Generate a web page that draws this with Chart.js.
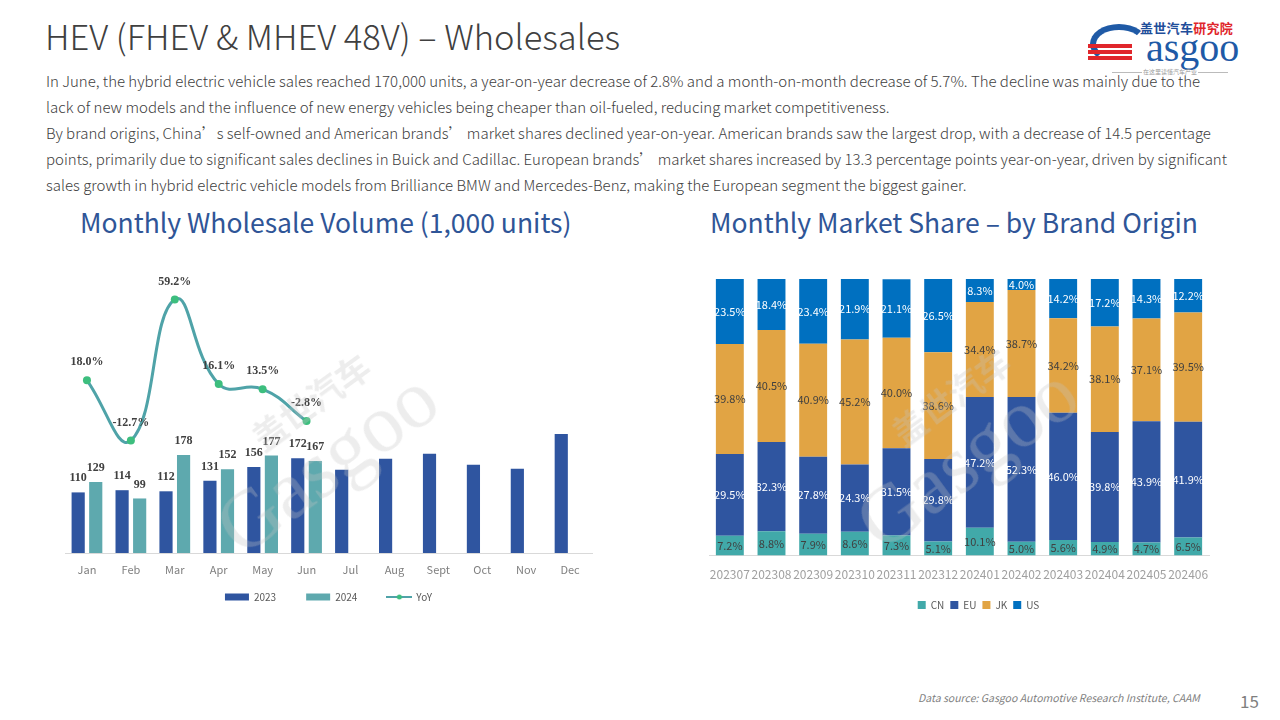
<!DOCTYPE html>
<html>
<head>
<meta charset="utf-8">
<script src="https://cdn.jsdelivr.net/npm/chart.js@4.4.1/dist/chart.umd.min.js"></script>
<style>
    body { margin: 0; width: 1280px; height: 720px; background: #fff; position: relative; overflow: hidden;
           font-family: "Noto Sans CJK SC", "Noto Sans", sans-serif; color: #404040; }
    .title { position: absolute; left: 45px; top: 10px; font-size: 34.5px; font-weight: 300; color: #404040; white-space: nowrap; }
    .intro { position: absolute; left: 46px; top: 68px; font-size: 15px; line-height: 26px; font-weight: 300; color: #404040; white-space: nowrap; }
    .sub { position: absolute; top: 202px; font-size: 26.5px; color: #2F5597; white-space: nowrap; }
    .chartbox { position: absolute; }
    .wm { position: absolute; width: 260px; height: 120px; transform: rotate(-36deg); pointer-events: none;
          color: rgba(195,195,195,0.3); white-space: nowrap; }
    .wm .cn { font-size: 34px; line-height: 38px; margin-left: 80px; font-weight: bold; }
    .wm .en { font-family: "Liberation Serif", serif; font-size: 82px; line-height: 80px; }
    .source { position: absolute; left: 918px; top: 690px; font-size: 10.5px; font-style: italic; color: #7f7f7f; white-space: nowrap; }
    .page { position: absolute; left: 1240px; top: 688px; font-size: 17px; color: #7f7f7f; }
    .logo-cn { position: absolute; left: 1140px; top: 18px; font-size: 13px; font-weight: bold; color: #1F4E9A; letter-spacing: 0.3px; }
    .logo-cn span { color: #E0262B; }
    .logo-en { position: absolute; left: 1146px; top: 24px; font-family: "Liberation Serif", serif; font-size: 40px; color: #1F5AA6; }
    .logo-g { position: absolute; left: 1090px; top: 24px; width: 58px; height: 40px; border: 6px solid #1F5AA6; border-radius: 50%;
              border-right-color: transparent; border-bottom-color: transparent; box-sizing: border-box; }
    .stripe { position: absolute; left: 1088px; width: 44px; height: 4px; background: #E0262B; }
    .tag { position: absolute; left: 1112px; top: 67px; width: 116px; font-size: 6px; color: #999; text-align: center; }
    .tag::before, .tag::after { content: ""; position: absolute; top: 5px; width: 30px; border-top: 1px solid #bbb; }
    .tag::before { left: 0; } .tag::after { right: 0; }
</style>
</head>
<body>
<div class="title">HEV (FHEV &amp; MHEV 48V) – Wholesales</div>
<div class="intro">In June, the hybrid electric vehicle sales reached 170,000 units, a year-on-year decrease of 2.8% and a month-on-month decrease of 5.7%. The decline was mainly due to the<br>lack of new models and the influence of new energy vehicles being cheaper than oil-fueled, reducing market competitiveness.<br>By brand origins, China’s self-owned and American brands’ market shares declined year-on-year. American brands saw the largest drop, with a decrease of 14.5 percentage<br>points, primarily due to significant sales declines in Buick and Cadillac. European brands’ market shares increased by 13.3 percentage points year-on-year, driven by significant<br>sales growth in hybrid electric vehicle models from Brilliance BMW and Mercedes-Benz, making the European segment the biggest gainer.</div>

<div class="logo-g"></div>
<div class="stripe" style="top:44px"></div>
<div class="stripe" style="top:50px"></div>
<div class="stripe" style="top:56px"></div>
<div class="logo-cn">盖世汽车<span>研究院</span></div>
<div class="logo-en">asgoo</div>
<div class="tag">在这里读懂汽车产业</div>

<div class="sub" style="left:80px">Monthly Wholesale Volume (1,000 units)</div>
<div class="sub" style="left:710px">Monthly Market Share – by Brand Origin</div>

<div class="chartbox" style="left:40px; top:230px; width:570px; height:382px"><canvas id="volChart"></canvas></div>
<div class="chartbox" style="left:690px; top:265px; width:540px; height:355px"><canvas id="shareChart"></canvas></div>

<div class="wm" style="left:190px; top:385px"><div class="cn">盖世汽车</div><div class="en">Gasgoo</div></div>
<div class="wm" style="left:830px; top:380px"><div class="cn">盖世汽车</div><div class="en">Gasgoo</div></div>

<div class="source">Data source: Gasgoo Automotive Research Institute, CAAM</div>
<div class="page">15</div>

<script>
    // wholesale volume, 1,000 units
    var months = ["Jan", "Feb", "Mar", "Apr", "May", "Jun", "Jul", "Aug", "Sept", "Oct", "Nov", "Dec"];
    var sales2023 = [110, 114, 112, 131, 156, 172, 151, 171, 180, 160, 153, 216];
    var sales2024 = [129, 99, 178, 152, 177, 167, null, null, null, null, null, null];
    var yoy = [18.0, -12.7, 59.2, 16.1, 13.5, -2.8, null, null, null, null, null, null];

    // market share by brand origin, %
    var periods = ["202307", "202308", "202309", "202310", "202311", "202312", "202401", "202402", "202403", "202404", "202405", "202406"];
    var shareCN = [7.2, 8.8, 7.9, 8.6, 7.3, 5.1, 10.1, 5.0, 5.6, 4.9, 4.7, 6.5];
    var shareEU = [29.5, 32.3, 27.8, 24.3, 31.5, 29.8, 47.2, 52.3, 46.0, 39.8, 43.9, 41.9];
    var shareJK = [39.8, 40.5, 40.9, 45.2, 40.0, 38.6, 34.4, 38.7, 34.2, 38.1, 37.1, 39.5];
    var shareUS = [23.5, 18.4, 23.4, 21.9, 21.1, 26.5, 8.3, 4.0, 14.2, 17.2, 14.3, 12.2];

    var darkBlue = "#2F55A0";
    var teal = "#5EA9AE";

    // little legend icon: line with a dot
    function lineIcon() {
        var c = document.createElement("canvas");
        c.width = 26; c.height = 8;
        var g = c.getContext("2d");
        g.strokeStyle = "#4FA3A8"; g.lineWidth = 2;
        g.beginPath(); g.moveTo(0, 4); g.lineTo(26, 4); g.stroke();
        g.fillStyle = "#3DBE7E";
        g.beginPath(); g.arc(13, 4, 2.5, 0, Math.PI * 2); g.fill();
        return c;
    }

    var volLabels = {
        id: "volLabels",
        afterDatasetsDraw: function(chart) {
            var ctx = chart.ctx;
            ctx.save();
            ctx.font = "bold 12px 'Liberation Serif', serif";
            ctx.fillStyle = "#404040";
            ctx.textAlign = "center";
            ctx.textBaseline = "middle";
            [0, 1].forEach(function(di) {
                chart.getDatasetMeta(di).data.forEach(function(el, i) {
                    var v = chart.data.datasets[di].data[i];
                    if (v == null || yoy[i] == null) return;
                    ctx.fillText(v, el.x, el.y - 14);
                });
            });
            chart.getDatasetMeta(2).data.forEach(function(el, i) {
                var v = yoy[i];
                if (v == null) return;
                ctx.fillText(v.toFixed(1) + "%", el.x, el.y - 18);
            });
            ctx.restore();
        }
    };

    new Chart(document.getElementById("volChart"), {
        type: "bar",
        data: {
            labels: months,
            datasets: [
                { label: "2023", data: sales2023, backgroundColor: darkBlue, yAxisID: "y", order: 2,
                  categoryPercentage: 0.8, barPercentage: 0.75 },
                { label: "2024", data: sales2024, backgroundColor: teal, yAxisID: "y", order: 2,
                  categoryPercentage: 0.8, barPercentage: 0.75 },
                { label: "YoY", type: "line", data: yoy, yAxisID: "y1", order: 1,
                  borderColor: "#4FA3A8", borderWidth: 3, tension: 0.45,
                  pointRadius: 4, pointBackgroundColor: "#3DBE7E", pointBorderWidth: 0 }
            ]
        },
        options: {
            responsive: true,
            maintainAspectRatio: false,
            animation: false,
            layout: { padding: { left: 25, right: 18, top: 9, bottom: 0 } },
            scales: {
                x: {
                    grid: { display: false, drawTicks: false },
                    border: { color: "#D9D9D9" },
                    ticks: { color: "#7F7F7F", font: { size: 11, family: "'Noto Sans CJK SC', sans-serif" }, padding: 10 },
                    afterFit: function(scale) { scale.height = 29; }
                },
                y: { display: false, min: 0, max: 570 },
                y1: { display: false, min: -70, max: 90 }
            },
            plugins: {
                tooltip: { enabled: false },
                legend: {
                    position: "bottom",
                    labels: {
                        color: "#595959",
                        font: { size: 10, family: "'Noto Sans CJK SC', sans-serif" },
                        usePointStyle: true,
                        pointStyleWidth: 24,
                        boxHeight: 7,
                        padding: 10,
                        sort: function(a, b) { return a.datasetIndex - b.datasetIndex; },
                        generateLabels: function(chart) {
                            var items = Chart.defaults.plugins.legend.labels.generateLabels(chart);
                            items.forEach(function(it) {
                                if (it.datasetIndex === 2) {
                                    it.pointStyle = lineIcon();
                                } else {
                                    it.pointStyle = "rect";
                                    it.lineWidth = 0;
                                    it.text = it.text + "\u2003\u2003";
                                }
                            });
                            return items;
                        }
                    }
                }
            }
        },
        plugins: [volLabels]
    });

    var shareLabels = {
        id: "shareLabels",
        afterDatasetsDraw: function(chart) {
            var ctx = chart.ctx;
            ctx.save();
            ctx.font = "11px 'Noto Sans CJK SC', sans-serif";
            ctx.textAlign = "center";
            ctx.textBaseline = "middle";
            chart.data.datasets.forEach(function(ds, di) {
                ctx.fillStyle = ds.labelColor;
                chart.getDatasetMeta(di).data.forEach(function(el, i) {
                    ctx.fillText(ds.data[i].toFixed(1) + "%", el.x, (el.y + el.base) / 2);
                });
            });
            ctx.restore();
        }
    };

    new Chart(document.getElementById("shareChart"), {
        type: "bar",
        data: {
            labels: periods,
            datasets: [
                { label: "CN", data: shareCN, backgroundColor: "#41A9A9", labelColor: "#404040" },
                { label: "EU", data: shareEU, backgroundColor: darkBlue, labelColor: "#FFFFFF" },
                { label: "JK", data: shareJK, backgroundColor: "#E1A444", labelColor: "#404040" },
                { label: "US", data: shareUS, backgroundColor: "#0070C0", labelColor: "#FFFFFF" }
            ]
        },
        options: {
            responsive: true,
            maintainAspectRatio: false,
            animation: false,
            layout: { padding: { left: 19, right: 21, top: 14, bottom: 0 } },
            datasets: { bar: { categoryPercentage: 1, barPercentage: 0.67 } },
            scales: {
                x: {
                    stacked: true,
                    grid: { display: false, drawTicks: false },
                    border: { color: "#D9D9D9" },
                    ticks: { color: "#A0A0A0", autoSkip: false, maxRotation: 0,
                             font: { size: 12, family: "'Noto Sans CJK SC', sans-serif" }, padding: 12 }
                },
                y: { display: false, stacked: true, min: 0, max: 100 }
            },
            plugins: {
                tooltip: { enabled: false },
                legend: {
                    position: "bottom",
                    labels: {
                        color: "#595959",
                        font: { size: 10, family: "'Noto Sans CJK SC', sans-serif" },
                        usePointStyle: true,
                        pointStyle: "rect",
                        boxWidth: 8,
                        boxHeight: 8,
                        padding: 6,
                        generateLabels: function(chart) {
                            var items = Chart.defaults.plugins.legend.labels.generateLabels(chart);
                            // empty spacer so the legend sits right of centre like the original
                            items.unshift({ text: "\u2003\u2003", fillStyle: "rgba(0,0,0,0)", strokeStyle: "rgba(0,0,0,0)",
                                            lineWidth: 0, pointStyle: "rect", hidden: false, datasetIndex: -1 });
                            return items;
                        }
                    }
                }
            }
        },
        plugins: [shareLabels]
    });
</script>
</body>
</html>
